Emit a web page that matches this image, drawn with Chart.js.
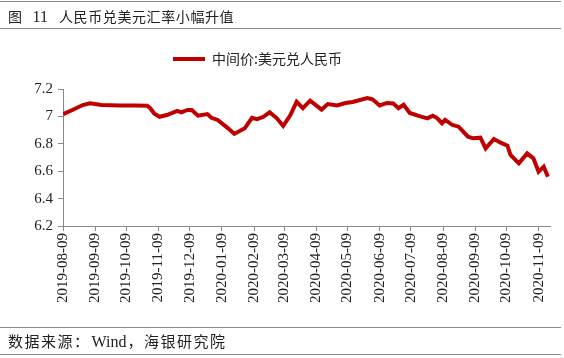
<!DOCTYPE html>
<html>
<head>
<meta charset="utf-8">
<script src="https://cdn.jsdelivr.net/npm/chart.js@4.4.1/dist/chart.umd.min.js"></script>
<style>
  html, body { margin: 0; padding: 0; background: #fff; }
  #wrap { position: relative; width: 564px; height: 358px; overflow: hidden; }
  canvas { position: absolute; left: 0; top: 0; }
  .hr { position: absolute; left: 0; width: 561px; height: 0; border-top: 1.5px solid #8a8a8a; }
  .txt { position: absolute; font-family: "Noto Sans CJK SC", sans-serif; color: #222; white-space: pre; line-height: 1; }
  .num { font-family: 'Liberation Serif', serif; letter-spacing: 0; }
</style>
</head>
<body>
<div id="wrap">
  <canvas id="c" width="564" height="358"></canvas>
  <div class="hr" style="top:1px"></div>
  <div class="txt" style="left:8px; top:9px; font-size:14px; letter-spacing:0.6px;">图<span class="num" style="font-size:16px;margin-left:10px;margin-right:11px;">11</span>人民币兑美元汇率小幅升值</div>
  <div class="hr" style="top:28px"></div>
  <div class="hr" style="top:327px"></div>
  <div class="txt" style="left:8px; top:333px; font-size:15px; letter-spacing:1.5px;">数据来源：<span class="num" style="font-size:16px;margin-left:1px;margin-right:1px;">Wind</span>，海银研究院</div>
  <div class="hr" style="top:354px"></div>
</div>
<script>
const seriesName = '中间价:美元兑人民币';
const startDate = '2019-08-09';
const dates = [
  '2019-08-09','2019-08-18','2019-08-28','2019-09-04','2019-09-15','2019-10-03','2019-10-17','2019-10-29',
  '2019-11-01','2019-11-05','2019-11-10','2019-11-17','2019-11-27','2019-12-01','2019-12-07','2019-12-11',
  '2019-12-17','2019-12-26','2019-12-30','2020-01-05','2020-01-15','2020-01-21','2020-01-31','2020-02-07',
  '2020-02-12','2020-02-18','2020-02-24','2020-03-02','2020-03-08','2020-03-15','2020-03-21','2020-03-27',
  '2020-04-03','2020-04-14','2020-04-20','2020-04-29','2020-05-07','2020-05-14','2020-05-28','2020-06-02',
  '2020-06-09','2020-06-16','2020-06-22','2020-06-27','2020-07-02','2020-07-08','2020-07-18','2020-07-25',
  '2020-07-30','2020-08-03','2020-08-08','2020-08-11','2020-08-18','2020-08-24','2020-09-02','2020-09-07',
  '2020-09-14','2020-09-19','2020-09-27','2020-10-03','2020-10-10','2020-10-13','2020-10-21','2020-10-29',
  '2020-11-04','2020-11-09','2020-11-14','2020-11-18'
];
const values = [
  7.017,7.047,7.083,7.095,7.083,7.080,7.080,7.078,
  7.060,7.020,6.997,7.010,7.040,7.030,7.047,7.047,
  7.005,7.017,6.990,6.974,6.913,6.872,6.913,6.990,
  6.980,6.997,7.030,6.986,6.930,7.010,7.107,7.060,
  7.115,7.050,7.090,7.080,7.098,7.105,7.134,7.125,
  7.080,7.098,7.095,7.060,7.085,7.025,7.000,6.986,
  7.005,6.990,6.950,6.974,6.937,6.925,6.852,6.840,
  6.845,6.767,6.835,6.810,6.786,6.718,6.657,6.730,
  6.694,6.596,6.633,6.560
];
const xTickDates = ['2019-08-09','2019-09-09','2019-10-09','2019-11-09','2019-12-09','2020-01-09','2020-02-09',
  '2020-03-09','2020-04-09','2020-05-09','2020-06-09','2020-07-09','2020-08-09','2020-09-09','2020-10-09','2020-11-09'];
const xEndDate = '2020-11-20';
const yTickValues = [6.2, 6.4, 6.6, 6.8, 7.0, 7.2];
const yTickLabels = ['6.2','6.4','6.6','6.8','7','7.2'];

const dayOf = s => Math.round((Date.parse(s + 'T00:00:00Z') - Date.parse(startDate + 'T00:00:00Z')) / 86400000);
const points = dates.map((d, i) => ({ x: dayOf(d), y: values[i] }));
const xTickDays = xTickDates.map(dayOf);

const lineColor = '#C00000';
const axisColor = '#8a8a8a';
const tickFont = { family: "'Liberation Serif', 'Times New Roman', serif", size: 15 };

const legendPlugin = {
  id: 'customLegend',
  afterDraw(chart) {
    const ctx = chart.ctx;
    ctx.save();
    ctx.strokeStyle = lineColor;
    ctx.lineWidth = 4;
    ctx.beginPath();
    ctx.moveTo(173, 59);
    ctx.lineTo(205, 59);
    ctx.stroke();
    ctx.fillStyle = '#222';
    ctx.font = "14px 'Noto Sans CJK SC', sans-serif";
    ctx.textBaseline = 'middle';
    ctx.fillText(chart.data.datasets[0].label, 212, 59);
    ctx.restore();
  }
};

new Chart(document.getElementById('c'), {
  type: 'line',
  data: {
    datasets: [{
      label: seriesName,
      data: points,
      borderColor: lineColor,
      borderWidth: 4,
      pointRadius: 0,
      tension: 0,
      fill: false
    }]
  },
  options: {
    responsive: false,
    animation: false,
    layout: { padding: { left: 0, top: 89, right: 14, bottom: 48 } },
    plugins: { legend: { display: false }, tooltip: { enabled: false } },
    scales: {
      x: {
        type: 'linear',
        min: 0,
        max: dayOf(xEndDate),
        afterFit: s => { s.height = 84; },
        afterBuildTicks: s => { s.ticks = xTickDays.map(v => ({ value: v })); },
        grid: { drawOnChartArea: false, color: axisColor, tickLength: 5, lineWidth: 1 },
        border: { color: axisColor, width: 1 },
        ticks: {
          autoSkip: false,
          minRotation: 90,
          maxRotation: 90,
          padding: 2,
          color: '#222',
          font: tickFont,
          callback: (v) => { const i = xTickDays.indexOf(v); return i >= 0 ? xTickDates[i] : ''; }
        }
      },
      y: {
        min: 6.2,
        max: 7.2,
        afterFit: s => { s.width = 63; },
        afterBuildTicks: s => { s.ticks = yTickValues.map(v => ({ value: v })); },
        grid: { drawOnChartArea: false, color: axisColor, tickLength: 5, lineWidth: 1 },
        border: { color: axisColor, width: 1 },
        ticks: {
          padding: 5,
          color: '#222',
          font: tickFont,
          callback: (v) => { const i = yTickValues.findIndex(t => Math.abs(t - v) < 1e-6); return i >= 0 ? yTickLabels[i] : ''; }
        }
      }
    }
  },
  plugins: [legendPlugin]
});
</script>
</body>
</html>
